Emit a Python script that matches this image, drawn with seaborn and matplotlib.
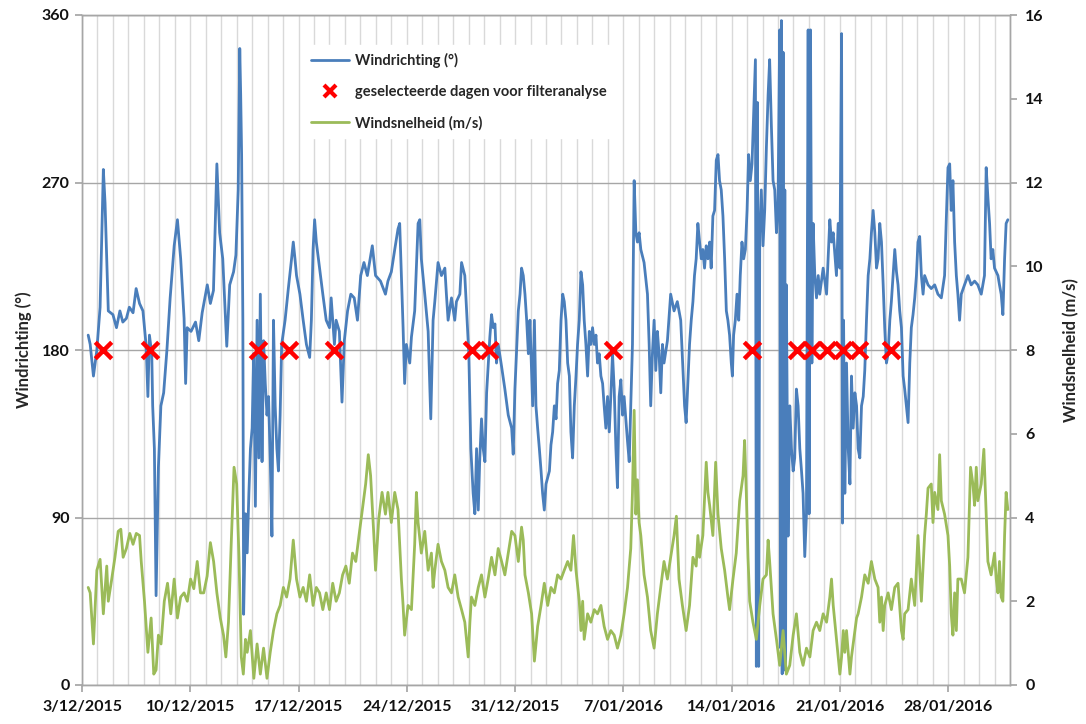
import matplotlib
matplotlib.use("Agg")
import matplotlib.pyplot as plt
import matplotlib.dates as mdates
from matplotlib.lines import Line2D
import numpy as np
import pandas as pd
import seaborn as sns

# ---------------- data ----------------
start_date = "2015-12-03"
end_date = "2016-02-01"

# Wind direction: time in days since 3/12/2015 00:00, value in degrees
dir_day = [0.40,0.53,0.74,0.96,1.17,1.38,1.49,1.60,1.70,2.00,2.23,2.45,2.64,2.87,3.06,3.30,3.50,3.72,3.94,4.15,4.26,4.36,4.51,4.57,4.68,4.79,4.94,5.10,5.28,5.49,5.70,5.96,6.17,6.38,6.60,6.70,6.80,7.05,7.34,7.55,7.77,8.10,8.30,8.50,8.72,8.90,9.10,9.36,9.55,9.80,9.95,10.10,10.20,10.26,10.32,10.40,10.45,10.57,10.68,10.79,10.89,11.00,11.10,11.21,11.32,11.43,11.53,11.64,11.74,11.85,11.96,12.06,12.17,12.28,12.38,12.49,12.60,12.70,12.81,12.91,13.13,13.34,13.55,13.66,13.77,13.87,14.09,14.30,14.51,14.72,14.83,14.94,15.04,15.15,15.36,15.57,15.79,16.00,16.11,16.32,16.43,16.64,16.81,16.96,17.17,17.38,17.60,17.81,18.02,18.23,18.45,18.77,18.98,19.30,19.62,19.78,20.00,20.22,20.43,20.54,20.65,20.76,20.86,20.97,21.19,21.30,21.51,21.73,21.84,21.94,22.16,22.38,22.55,22.70,22.81,23.02,23.24,23.46,23.56,23.67,23.89,24.10,24.21,24.43,24.54,24.75,24.92,25.01,25.14,25.29,25.40,25.51,25.62,25.72,25.83,25.94,26.05,26.16,26.26,26.37,26.48,26.59,26.70,26.80,26.91,27.13,27.34,27.56,27.78,27.88,27.99,28.21,28.32,28.42,28.53,28.64,28.75,28.86,28.96,29.14,29.25,29.35,29.46,29.57,29.68,29.78,29.89,30.00,30.22,30.32,30.43,30.54,30.65,30.75,30.86,30.97,31.08,31.18,31.29,31.40,31.51,31.61,31.72,31.83,31.94,32.04,32.15,32.26,32.37,32.47,32.58,32.69,32.80,32.90,33.01,33.12,33.23,33.33,33.44,33.55,33.66,33.76,33.87,33.98,34.09,34.19,34.30,34.41,34.52,34.62,34.73,34.84,34.95,35.05,35.16,35.27,35.38,35.48,35.59,35.70,35.81,35.91,36.02,36.13,36.34,36.56,36.67,36.77,36.88,36.99,37.10,37.20,37.31,37.42,37.53,37.63,37.85,38.06,38.28,38.49,38.71,38.85,38.96,39.06,39.17,39.28,39.39,39.50,39.60,39.71,39.82,39.93,40.04,40.14,40.25,40.36,40.47,40.58,40.68,40.79,40.90,41.01,41.12,41.22,41.33,41.44,41.55,41.66,41.76,41.87,41.98,42.05,42.13,42.24,42.35,42.46,42.56,42.67,42.78,42.89,43.00,43.10,43.21,43.32,43.43,43.54,43.60,43.67,43.75,43.82,43.92,44.03,44.14,44.25,44.36,44.46,44.57,44.68,44.79,44.90,45.00,45.11,45.16,45.22,45.27,45.33,45.38,45.44,45.49,45.54,45.65,45.76,45.87,45.98,46.08,46.19,46.30,46.41,46.52,46.62,46.73,46.84,46.95,47.01,47.10,47.19,47.27,47.38,47.49,47.60,47.70,47.92,48.14,48.24,48.35,48.46,48.57,48.68,48.78,48.89,49.00,49.11,49.17,49.24,49.32,49.43,49.54,49.65,49.75,49.86,49.97,50.08,50.18,50.29,50.40,50.51,50.61,50.72,50.83,50.94,51.04,51.15,51.26,51.37,51.47,51.58,51.69,51.80,51.90,52.01,52.12,52.23,52.33,52.44,52.55,52.66,52.76,52.87,52.98,53.09,53.19,53.30,53.41,53.52,53.62,53.73,53.84,53.95,54.05,54.16,54.27,54.38,54.48,54.70,54.91,55.13,55.34,55.56,55.77,55.88,55.99,56.10,56.20,56.31,56.42,56.53,56.63,56.74,56.85,57.06,57.28,57.49,57.71,57.92,58.14,58.35,58.46,58.57,58.68,58.78,58.89,59.00,59.11,59.22,59.32,59.43,59.54,59.65,59.75,59.86]
dir_deg = [188,183,166,180,203,277,259,229,201,199,192,201,195,197,203,200,213,205,201,182,155,188,178,150,127,48,117,150,157,180,208,236,250,229,197,162,192,190,195,185,200,215,205,212,280,243,229,182,215,222,231,266,342,317,285,196,38,92,71,103,127,138,178,96,196,122,210,120,185,162,145,155,122,80,196,150,127,115,145,183,196,213,229,238,229,220,210,196,183,176,196,234,250,238,224,210,196,192,208,183,196,190,152,185,201,210,208,196,220,227,220,236,220,217,210,217,222,234,245,248,220,192,162,183,173,187,201,248,250,229,210,190,143,196,206,227,220,224,210,196,208,196,206,210,227,220,192,178,127,103,92,127,94,122,143,127,120,157,171,187,199,192,194,173,183,171,159,145,138,124,159,201,210,224,220,210,196,178,196,150,196,150,138,127,115,103,94,108,115,129,136,150,143,162,169,196,210,206,196,173,166,136,122,150,166,183,196,222,215,196,183,166,190,183,192,183,188,173,178,166,162,150,138,155,136,155,178,159,127,106,155,164,145,155,143,131,120,150,183,271,243,238,243,234,227,210,183,150,178,196,169,190,178,157,183,173,185,210,201,206,196,170,150,141,162,183,196,206,220,229,248,238,229,234,224,236,229,238,224,252,255,282,285,271,266,252,229,201,196,188,173,166,188,196,210,196,220,238,229,234,255,285,271,280,308,336,10,313,10,243,266,236,255,289,317,336,301,271,266,243,257,352,20,357,6,340,8,266,10,215,80,150,127,115,122,159,150,127,115,103,69,92,352,92,352,173,248,220,208,220,210,224,210,229,250,238,243,231,220,248,224,350,87,196,103,173,127,108,166,138,157,150,127,122,150,155,169,196,220,229,243,255,243,224,229,248,238,215,192,173,178,196,206,220,234,222,215,201,192,166,159,150,141,173,192,199,208,220,238,241,220,210,220,215,213,215,210,208,220,250,278,280,255,271,238,220,210,196,210,215,220,215,217,215,210,220,278,262,248,229,234,224,222,220,215,210,199,229,248,250]

# Wind speed: time in days since 3/12/2015 00:00, value in m/s
speed_day = [0.40,0.53,0.74,0.96,1.17,1.38,1.60,1.70,1.91,2.13,2.34,2.51,2.66,2.87,3.09,3.30,3.51,3.72,3.83,4.04,4.26,4.47,4.64,4.79,4.94,5.11,5.32,5.53,5.74,5.96,6.17,6.38,6.60,6.81,7.02,7.23,7.45,7.66,7.87,8.09,8.30,8.51,8.72,8.94,9.15,9.30,9.47,9.65,9.83,10.00,10.15,10.30,10.43,10.57,10.68,10.89,11.11,11.32,11.53,11.74,11.96,12.17,12.38,12.60,12.81,13.02,13.23,13.45,13.66,13.87,14.09,14.30,14.51,14.72,14.94,15.15,15.36,15.57,15.79,16.00,16.21,16.43,16.64,16.85,17.06,17.28,17.49,17.70,17.91,18.13,18.34,18.51,18.66,18.87,18.98,19.19,19.40,19.62,19.78,20.00,20.22,20.43,20.65,20.76,20.86,21.08,21.30,21.51,21.62,21.73,21.94,22.16,22.38,22.59,22.70,22.81,23.02,23.24,23.46,23.67,23.89,24.10,24.32,24.54,24.75,24.97,25.08,25.18,25.40,25.62,25.83,26.05,26.26,26.48,26.70,26.91,27.13,27.34,27.56,27.78,27.99,28.21,28.42,28.53,28.64,28.86,29.07,29.25,29.46,29.68,29.89,30.11,30.32,30.54,30.75,30.97,31.18,31.40,31.61,31.78,31.94,32.15,32.26,32.37,32.47,32.69,32.90,33.12,33.33,33.55,33.76,33.98,34.19,34.41,34.62,34.84,35.05,35.27,35.48,35.59,35.70,35.81,35.91,36.02,36.13,36.34,36.56,36.77,36.99,37.20,37.42,37.63,37.85,38.06,38.28,38.43,38.60,38.82,39.06,39.28,39.50,39.71,39.82,39.93,40.14,40.36,40.47,40.58,40.79,40.97,41.12,41.33,41.55,41.76,41.87,42.09,42.30,42.52,42.74,42.84,42.95,43.06,43.17,43.38,43.60,43.82,44.03,44.25,44.36,44.46,44.68,44.90,45.11,45.33,45.54,45.76,45.98,46.19,46.41,46.62,46.84,47.06,47.27,47.49,47.70,47.92,48.14,48.35,48.46,48.57,48.78,48.90,49.00,49.11,49.22,49.32,49.43,49.54,49.65,49.75,49.86,49.97,50.08,50.18,50.40,50.61,50.83,51.04,51.15,51.26,51.47,51.58,51.69,51.80,51.90,52.12,52.33,52.55,52.76,52.98,53.09,53.19,53.41,53.62,53.84,54.05,54.27,54.48,54.59,54.70,54.91,55.02,55.13,55.34,55.45,55.56,55.77,55.99,56.10,56.20,56.31,56.42,56.53,56.63,56.85,57.06,57.28,57.45,57.60,57.71,57.82,57.92,58.14,58.31,58.46,58.57,58.78,59.00,59.11,59.22,59.32,59.43,59.54,59.65,59.75,59.86]
speed_ms = [2.33,2.2,0.98,2.74,3.0,1.7,2.84,2.0,2.5,3.05,3.67,3.72,3.05,3.26,3.62,3.36,3.62,3.57,2.95,2.0,0.78,1.6,0.26,0.36,1.19,0.98,2.0,2.43,1.7,2.53,1.6,2.1,2.2,2.0,2.53,2.3,2.95,2.2,2.2,2.6,3.4,2.95,2.2,1.6,1.19,0.67,1.5,3.4,5.2,4.8,3.05,0.67,0.26,1.09,0.78,1.3,0.16,0.98,0.26,0.88,0.16,0.78,1.3,1.7,1.9,2.33,2.1,2.53,3.46,2.53,2.1,2.33,2.0,2.63,1.9,2.33,2.2,1.8,2.2,1.8,2.43,2.0,2.2,2.63,2.84,2.43,3.15,2.95,3.57,4.19,4.8,5.5,5.0,3.57,2.74,3.98,4.6,4.08,4.6,3.88,4.6,4.19,2.53,1.9,1.19,1.9,1.8,3.36,4.6,3.88,3.15,3.67,2.74,3.15,2.33,2.74,3.36,2.95,2.74,2.33,2.2,2.63,2.1,1.8,1.5,0.67,1.5,2.1,1.9,2.33,2.63,2.1,2.53,3.05,2.63,3.26,2.95,2.63,3.15,3.67,3.57,2.95,3.77,3.46,2.63,2.2,1.7,0.57,1.4,1.9,2.43,1.9,2.33,2.2,2.63,2.53,2.74,2.95,2.74,3.57,2.74,2.0,1.3,2.0,1.09,1.7,1.5,1.8,1.7,1.9,1.4,1.09,1.3,1.19,0.88,1.19,1.7,2.33,3.26,4.6,6.56,4.08,4.9,3.88,3.57,2.63,2.1,1.3,0.88,1.7,2.33,2.95,2.53,3.05,3.57,4.03,2.53,1.9,1.3,1.9,3.05,2.84,3.57,3.05,3.57,5.32,4.6,4.29,3.57,5.32,4.08,3.26,2.74,2.1,1.8,2.53,3.15,4.4,5.0,5.84,4.6,3.05,2.0,1.5,1.09,1.9,2.53,2.63,3.46,2.95,1.7,1.09,0.47,1.3,0.26,0.47,1.19,1.7,0.78,0.47,0.88,0.67,1.3,1.5,1.3,1.7,1.5,2.1,2.53,1.9,1.09,0.6,0.26,0.67,1.3,0.78,1.3,0.78,0.26,0.67,0.98,1.3,1.6,1.7,2.1,2.63,2.43,2.95,2.74,2.53,2.33,1.5,2.1,1.3,1.9,2.2,1.8,2.33,2.43,1.3,1.09,1.7,1.8,2.53,1.9,3.57,2.0,3.57,4.08,4.7,4.8,3.88,4.6,4.19,5.5,4.4,4.08,3.57,2.84,1.7,1.19,2.2,1.3,2.53,2.53,2.2,3.05,5.2,4.8,4.29,5.2,4.4,4.8,5.63,4.08,2.95,2.63,3.15,2.53,2.2,2.95,2.1,2.0,3.57,4.6,4.19]

# Selected days for filter analysis (days since 3/12/2015 00:00), drawn at 180 deg
marker_day = [1.35, 4.4, 11.35, 13.4, 16.3, 25.2, 26.3, 34.35, 43.3, 46.2, 47.2, 48.2, 49.2, 50.25, 52.3]
marker_level = 180

tick_labels = ["3/12/2015", "10/12/2015", "17/12/2015", "24/12/2015", "31/12/2015",
               "7/01/2016", "14/01/2016", "21/01/2016", "28/01/2016"]
dir_ticks = [0, 90, 180, 270, 360]
speed_ticks = [0, 2, 4, 6, 8, 10, 12, 14, 16]

legend_labels = ["Windrichting (°)", "geselecteerde dagen voor filteranalyse", "Windsnelheid (m/s)"]

# ---------------- build frames ----------------
t0 = pd.Timestamp(start_date)
df_dir = pd.DataFrame({"t": t0 + pd.to_timedelta(dir_day, unit="D"), "v": dir_deg})
df_spd = pd.DataFrame({"t": t0 + pd.to_timedelta(speed_day, unit="D"), "v": speed_ms})
df_mk = pd.DataFrame({"t": t0 + pd.to_timedelta(marker_day, unit="D"),
                      "v": [marker_level] * len(marker_day)})

# ---------------- style ----------------
sns.set_theme(style="white")
plt.rcParams["font.family"] = ["Lato", "DejaVu Sans"]
plt.rcParams["font.weight"] = "bold"

BLUE = "#4A7EBB"
GREEN = "#9BBB59"
RED = "#FF0000"
GRID_V = "#D9D9D9"
GRID_H = "#A6A6A6"

fig = plt.figure(figsize=(10.86, 7.24), dpi=100)
ax = fig.add_axes([82 / 1086, 1 - 685 / 724, (1010 - 82) / 1086, (685 - 15) / 724])
ax2 = ax.twinx()

sns.lineplot(data=df_dir, x="t", y="v", ax=ax, color=BLUE, linewidth=2.0,
             estimator=None, sort=False, legend=False, zorder=3)
sns.scatterplot(data=df_mk, x="t", y="v", ax=ax, marker="x", s=140,
                linewidth=3.2, color=RED, zorder=5, legend=False)
sns.lineplot(data=df_spd, x="t", y="v", ax=ax2, color=GREEN, linewidth=2.0,
             estimator=None, sort=False, legend=False)

# axes limits
ax.set_xlim(t0, pd.Timestamp(end_date))
ax.set_ylim(0, 360)
ax2.set_ylim(0, 16)

# x ticks
major_ticks = [t0 + pd.Timedelta(days=7 * i) for i in range(len(tick_labels))]
ax.set_xticks(major_ticks)
ax.set_xticklabels(tick_labels, fontsize=11.5, fontweight="bold")
ax.xaxis.set_minor_locator(mdates.DayLocator())
ax.set_xlabel("")

ax.set_yticks(dir_ticks)
ax.set_yticklabels([str(v) for v in dir_ticks], fontsize=11.5, fontweight="bold")
ax2.set_yticks(speed_ticks)
ax2.set_yticklabels([str(v) for v in speed_ticks], fontsize=11.5, fontweight="bold")

ax.set_ylabel("Windrichting (°)", fontsize=12, fontweight="bold", labelpad=7)
ax2.set_ylabel("Windsnelheid (m/s)", fontsize=12, fontweight="bold", labelpad=14)

# grid
ax.grid(axis="x", which="both", color=GRID_V, linewidth=1.0)
ax.grid(axis="y", which="major", color=GRID_H, linewidth=1.0)
ax2.grid(False)
ax.set_axisbelow(True)

for a in (ax, ax2):
    for s in a.spines.values():
        s.set_color(GRID_H)
        s.set_linewidth(1.0)

ax.tick_params(axis="x", which="major", direction="out", length=5, color=GRID_H,
               bottom=True, pad=6, labelcolor="#111111")
ax.tick_params(axis="x", which="minor", length=0)
ax.tick_params(axis="y", direction="out", length=5, color=GRID_H, left=True,
               pad=4, labelcolor="#111111")
ax2.tick_params(axis="y", direction="out", length=5, color=GRID_H, right=True,
                pad=6, labelcolor="#111111")

# legend (on top axis so it covers the gridlines)
handles = [
    Line2D([0], [0], color=BLUE, lw=2.0),
    Line2D([0], [0], color=RED, lw=0, marker="x", markersize=9, markeredgewidth=3),
    Line2D([0], [0], color=GREEN, lw=2.0),
]
leg = ax2.legend(handles, legend_labels, loc="upper left",
                 bbox_to_anchor=(296 / 1086, 1 - 38 / 724), bbox_transform=fig.transFigure,
                 frameon=True, fancybox=False, framealpha=1, facecolor="white",
                 edgecolor="white", labelspacing=1.15,
                 handlelength=2.6, handletextpad=0.4, borderpad=0.55,
                 prop={"weight": "bold", "size": 10.5})

fig.savefig("out.png", dpi=100)
